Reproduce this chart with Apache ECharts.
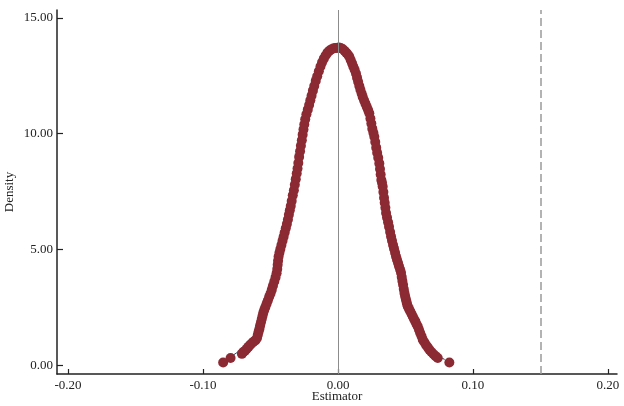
<!DOCTYPE html>
<html>
<head>
<meta charset="utf-8">
<script src="https://cdn.jsdelivr.net/npm/echarts@6/dist/echarts.min.js"></script>
<style>html,body{margin:0;padding:0;background:#fff}#c{width:624px;height:406px}</style>
</head>
<body>
<div id="c"></div>
<script>
// Placebo estimates and their kernel density
var estimates = [
-0.0851,-0.0796,-0.0712,-0.0702,-0.0690,-0.0676,-0.0664,-0.0652,-0.0640,-0.0627,-0.0612,-0.0600,
-0.0594,-0.0588,-0.0582,-0.0577,-0.0571,-0.0565,-0.0559,-0.0553,-0.0546,-0.0538,-0.0529,-0.0520,
-0.0510,-0.0500,-0.0491,-0.0482,-0.0472,-0.0463,-0.0455,-0.0450,-0.0447,-0.0444,-0.0440,-0.0434,
-0.0427,-0.0419,-0.0411,-0.0403,-0.0395,-0.0387,-0.0379,-0.0371,-0.0364,-0.0357,-0.0350,-0.0343,
-0.0335,-0.0327,-0.0320,-0.0313,-0.0306,-0.0300,-0.0294,-0.0288,-0.0281,-0.0275,-0.0268,-0.0262,
-0.0256,-0.0250,-0.0243,-0.0234,-0.0224,-0.0214,-0.0205,-0.0196,-0.0186,-0.0176,-0.0165,-0.0154,
-0.0142,-0.0130,-0.0118,-0.0105,-0.0092,-0.0078,-0.0064,-0.0050,-0.0036,-0.0022,-0.0008,
0.0006,0.0020,0.0034,0.0048,0.0061,0.0073,0.0084,0.0094,0.0104,0.0113,0.0123,0.0133,
0.0141,0.0149,0.0158,0.0166,0.0175,0.0183,0.0193,0.0203,0.0213,0.0223,0.0232,0.0240,
0.0247,0.0254,0.0262,0.0269,0.0276,0.0283,0.0290,0.0298,0.0306,0.0311,0.0316,0.0321,
0.0326,0.0331,0.0336,0.0341,0.0346,0.0351,0.0356,0.0363,0.0371,0.0378,0.0386,0.0393,
0.0400,0.0408,0.0415,0.0423,0.0430,0.0437,0.0445,0.0452,0.0460,0.0467,0.0472,0.0477,
0.0482,0.0487,0.0492,0.0497,0.0502,0.0507,0.0512,0.0517,0.0526,0.0535,0.0545,0.0554,
0.0563,0.0573,0.0582,0.0591,0.0600,0.0609,0.0619,0.0628,0.0640,0.0652,0.0665,0.0677,
0.0692,0.0708,0.0723,0.0739,0.0825
];
var densities = [
0.13,0.32,0.50,0.58,0.62,0.72,0.80,0.88,0.95,1.02,1.08,1.18,
1.32,1.46,1.58,1.72,1.86,2.00,2.14,2.28,2.40,2.52,2.66,2.80,
2.96,3.10,3.26,3.44,3.62,3.80,3.98,4.16,4.34,4.52,4.70,4.86,
5.02,5.20,5.38,5.55,5.74,5.92,6.10,6.30,6.50,6.70,6.88,7.10,
7.34,7.56,7.80,8.04,8.28,8.50,8.74,9.00,9.24,9.48,9.72,9.96,
10.18,10.40,10.62,10.84,11.04,11.24,11.44,11.64,11.86,12.06,12.28,12.48,
12.70,12.90,13.08,13.24,13.38,13.50,13.58,13.64,13.68,13.70,13.70,
13.72,13.70,13.66,13.58,13.50,13.42,13.32,13.18,13.04,12.90,12.76,12.60,
12.42,12.24,12.06,11.90,11.74,11.59,11.44,11.30,11.16,11.02,10.88,10.66,
10.44,10.22,10.04,9.87,9.64,9.40,9.18,8.96,8.72,8.48,8.24,8.00,
7.88,7.72,7.48,7.24,7.02,6.80,6.58,6.38,6.18,5.98,5.76,5.56,
5.38,5.20,5.04,4.86,4.70,4.56,4.42,4.28,4.14,4.00,3.82,3.64,
3.48,3.30,3.13,3.00,2.88,2.76,2.64,2.54,2.44,2.34,2.22,2.11,
2.00,1.90,1.78,1.68,1.54,1.40,1.26,1.11,1.00,0.88,0.78,0.68,
0.58,0.48,0.40,0.32,0.13
];
// Smooth kernel density curve
var curveX = [-0.080,-0.075,-0.070,-0.065,-0.060,-0.055,-0.050,-0.045,-0.040,-0.035,-0.030,-0.025,-0.020,-0.015,-0.010,-0.005,
0.000,0.005,0.010,0.015,0.020,0.025,0.030,0.035,0.040,0.045,0.050,0.055,0.060,0.065,0.070,0.075,0.079];
var curveY = [0.36,0.55,0.80,1.10,1.45,2.30,3.10,4.20,5.50,6.88,8.50,10.35,11.50,12.48,13.20,13.62,
13.72,13.58,13.10,12.22,11.30,10.30,8.90,6.98,5.40,4.40,2.90,2.15,1.55,1.00,0.62,0.38,0.26];
var xTicks = [-0.2,-0.1,0,0.1,0.2];
var yTicks = [0,5,10,15];
var trueEffect = 0.1545;

var pts = estimates.map(function(x,i){return [x, densities[i]];});
var line = curveX.map(function(x,i){return [x, curveY[i]];});
var font = 'Liberation Serif';

var chart = echarts.init(document.getElementById('c'), null, {renderer:'canvas'});
chart.setOption({
  animation:false,
  backgroundColor:'#fff',
  grid:{left:57, right:7, top:10, bottom:32, containLabel:false, outerBoundsMode:'none'},
  xAxis:{
    type:'value', min:-0.2082, max:0.2067,
    name:'Estimator', nameLocation:'middle', nameGap:16, nameMoveOverlap:false,
    nameTextStyle:{fontFamily:font, fontSize:13, color:'#222'},
    splitLine:{show:false},
    axisLine:{onZero:false, lineStyle:{color:'#222', width:1.5}},
    axisTick:{inside:true, length:5, customValues:xTicks, lineStyle:{color:'#222', width:1.2}},
    axisLabel:{customValues:xTicks, margin:5, fontFamily:font, fontSize:13, color:'#222',
      formatter:function(v){return v.toFixed(2);}}
  },
  yAxis:{
    type:'value', min:-0.37, max:15.34,
    name:'Density', nameLocation:'middle', nameGap:41, nameRotate:90, nameMoveOverlap:false,
    nameTextStyle:{fontFamily:font, fontSize:13, color:'#222'},
    splitLine:{show:false},
    axisLine:{onZero:false, lineStyle:{color:'#222', width:1.5}},
    axisTick:{inside:true, length:6, customValues:yTicks, lineStyle:{color:'#222', width:1.2}},
    axisLabel:{customValues:yTicks, margin:4, fontFamily:font, fontSize:13, color:'#222',
      formatter:function(v){return v.toFixed(2);}}
  },
  series:[
    {type:'line', data:line, smooth:0.3, symbol:'none', z:2,
     lineStyle:{color:'#1f3550', width:1},
     markLine:{silent:true, symbol:['none','none'], label:{show:false},
       data:[
         {xAxis:0, lineStyle:{color:'#8c8c8c', width:1, type:'solid'}},
         {xAxis:trueEffect, lineStyle:{color:'#9a9a9a', width:1.5, type:[8,4]}}
       ]}
    },
    {type:'scatter', data:pts, symbolSize:10, z:3,
     itemStyle:{color:'#8c2a33', opacity:1}}
  ]
});
</script>
</body>
</html>
